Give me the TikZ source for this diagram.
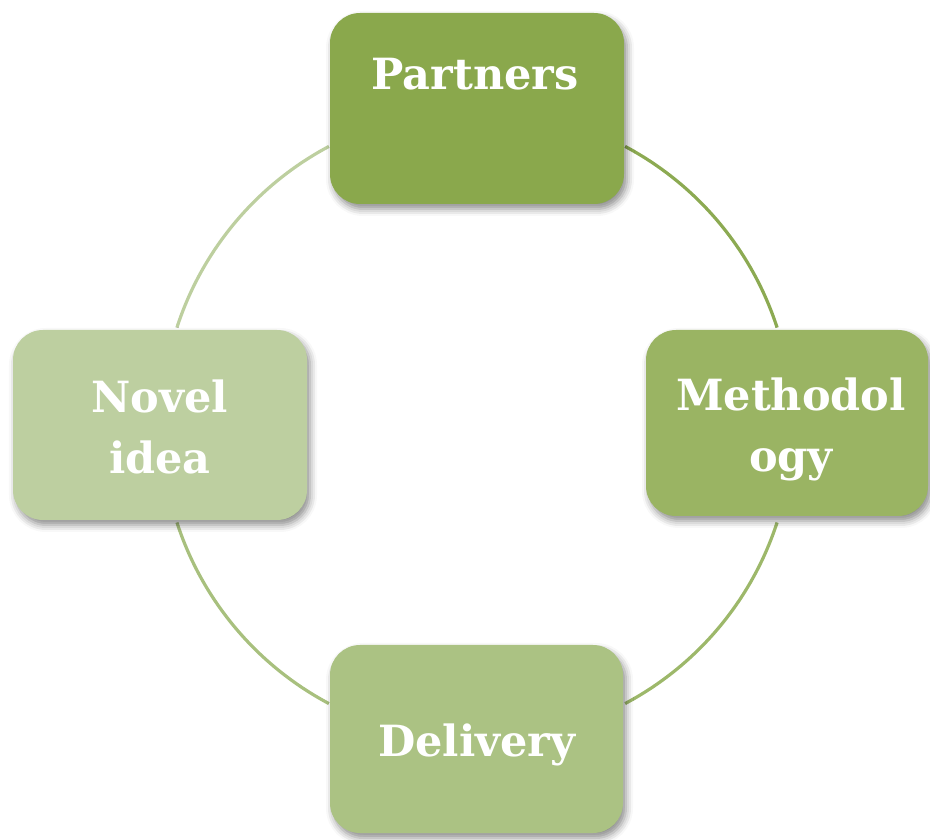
\documentclass[tikz,border=0pt]{standalone}
\usepackage{fontspec}
\setmainfont{DejaVu Serif}
\usetikzlibrary{shadows.blur}
\definecolor{cPart}{HTML}{8AA84C}
\definecolor{cMeth}{HTML}{9AB463}
\definecolor{cNov}{HTML}{BDCFA0}
\definecolor{cDel}{HTML}{ABC283}
\definecolor{aUL}{HTML}{BDCF9F}
\definecolor{aUR}{HTML}{8CAA52}
\definecolor{aLR}{HTML}{9DB86A}
\definecolor{aLL}{HTML}{A8C07E}
\tikzset{
  box/.style={draw=none, rounded corners=30pt, inner sep=0pt, align=center,
    text=white, font=\fontsize{43}{61}\selectfont\bfseries,
    blur shadow={shadow xshift=3pt, shadow yshift=-5pt, shadow blur radius=7pt, shadow opacity=45}},
  ring/.style={line width=3.2pt},
  lbl/.style={text=white, font=\fontsize{43}{61}\selectfont\bfseries, inner sep=0pt}
}
\begin{document}
\begin{tikzpicture}[x=1pt,y=1pt]
\useasboundingbox (0,0) rectangle (930,839);
\coordinate (c) at (477,414);
% ring arcs
\draw[ring, aUR] ([shift={(62:315.5)}]c) arc[start angle=62, end angle=18, radius=315.5];
\draw[ring, aLR] ([shift={(-18:315.5)}]c) arc[start angle=-18, end angle=-62, radius=315.5];
\draw[ring, aLL] ([shift={(-118:315.5)}]c) arc[start angle=-118, end angle=-162, radius=315.5];
\draw[ring, aUL] ([shift={(162:315.5)}]c) arc[start angle=162, end angle=118, radius=315.5];
% boxes
\node[box, fill=cPart, minimum width=294pt, minimum height=191pt] (part) at (477,730.5) {};
\node[lbl, anchor=base] (partT) at (475,749) {Partners};
\node[box, fill=cMeth, minimum width=282pt, minimum height=186pt] (meth) at (787,416) {};
\node[lbl, align=center] (methT) at (791,410) {Methodol\\ogy};
\node[box, fill=cNov, minimum width=294pt, minimum height=190pt] (nov) at (160,414) {};
\node[lbl, align=center] (novT) at (160,412) {Novel\\idea};
\node[box, fill=cDel, minimum width=293pt, minimum height=188pt] (del) at (476.5,100) {};
\node[lbl, anchor=base] (delT) at (477,82) {Delivery};
\end{tikzpicture}
\end{document}
